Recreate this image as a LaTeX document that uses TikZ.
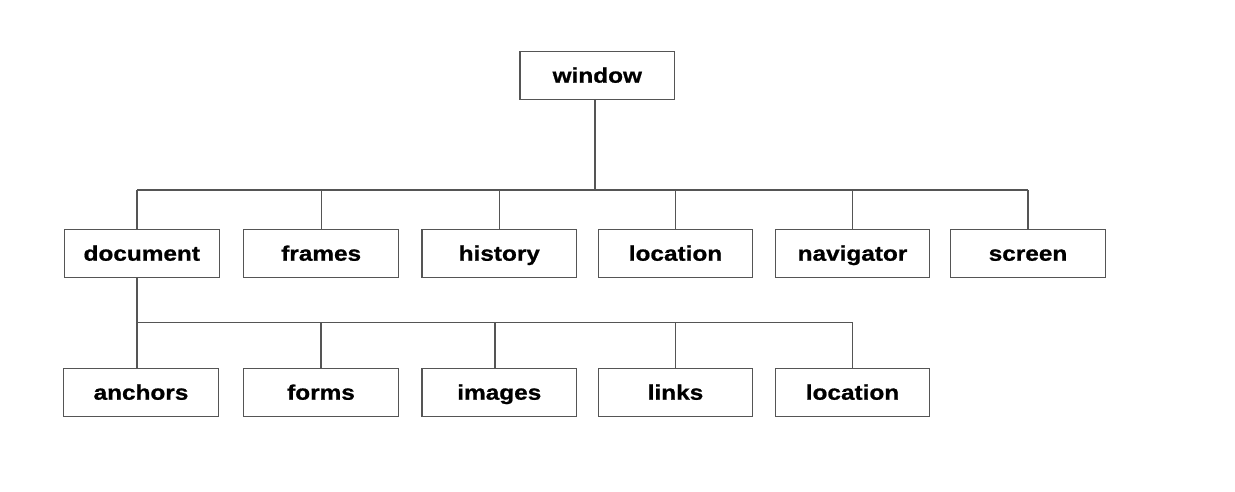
\documentclass[tikz,border=0pt]{standalone}
\usepackage{fontspec}
\setmainfont{Liberation Sans}[BoldFeatures={FakeStretch=1.16,FakeBold=0.9}]
\definecolor{linegray}{RGB}{85,85,85}
\tikzset{
  objbox/.style={draw=linegray, line width=1.2pt, minimum width=154.7pt, minimum height=47.6pt, inner sep=0pt,
    text height=18pt, text depth=3.6pt,
    font=\fontsize{21}{24}\selectfont\bfseries},
  conn/.style={draw=linegray, line width=1.1pt}
}
\begin{document}
\begin{tikzpicture}[x=1pt,y=-1pt]
\useasboundingbox (0,0) rectangle (1235,491);
\fill[white] (0,0) rectangle (1235,491);
\node[objbox] (window) at (597.3,75.5) {window};
\node[objbox] (document) at (141.8,253.5) {document};
\node[objbox] (frames) at (321.2,253.5) {frames};
\node[objbox] (history) at (499.3,253.5) {history};
\node[objbox] (location) at (675.5,253.5) {location};
\node[objbox] (navigator) at (852.5,253.5) {navigator};
\node[objbox] (screen) at (1028,253.5) {screen};
\node[objbox] (anchors) at (141,392.5) {anchors};
\node[objbox] (forms) at (321,392.5) {forms};
\node[objbox] (images) at (499.3,392.5) {images};
\node[objbox] (links) at (675.5,392.5) {links};
\node[objbox] (location2) at (852.5,392.5) {location};
\coordinate (busA) at (0,190);
\coordinate (busB) at (0,322.7);
% upper level
\draw[conn] ([xshift=-2.3pt]window.south) -- ([xshift=-2.3pt]window.south |- busA);
\draw[conn] ([xshift=-4.8pt]document.north |- busA) -- (screen.north |- busA);
\draw[conn] ([xshift=-4.8pt]document.north) -- ([xshift=-4.8pt]document.north |- busA);
\draw[conn] (frames.north) -- (frames.north |- busA);
\draw[conn] (history.north) -- (history.north |- busA);
\draw[conn] (location.north) -- (location.north |- busA);
\draw[conn] (navigator.north) -- (navigator.north |- busA);
\draw[conn] (screen.north) -- (screen.north |- busA);
% lower level
\draw[conn] ([xshift=-4.8pt]document.south) -- ([xshift=-4.8pt]document.south |- busB);
\draw[conn] ([xshift=-4pt]anchors.north |- busB) -- (location2.north |- busB);
\draw[conn] ([xshift=-4pt]anchors.north) -- ([xshift=-4pt]anchors.north |- busB);
\draw[conn] (forms.north) -- (forms.north |- busB);
\draw[conn] ([xshift=-4.3pt]images.north) -- ([xshift=-4.3pt]images.north |- busB);
\draw[conn] (links.north) -- (links.north |- busB);
\draw[conn] (location2.north) -- (location2.north |- busB);
\end{tikzpicture}
\end{document}
